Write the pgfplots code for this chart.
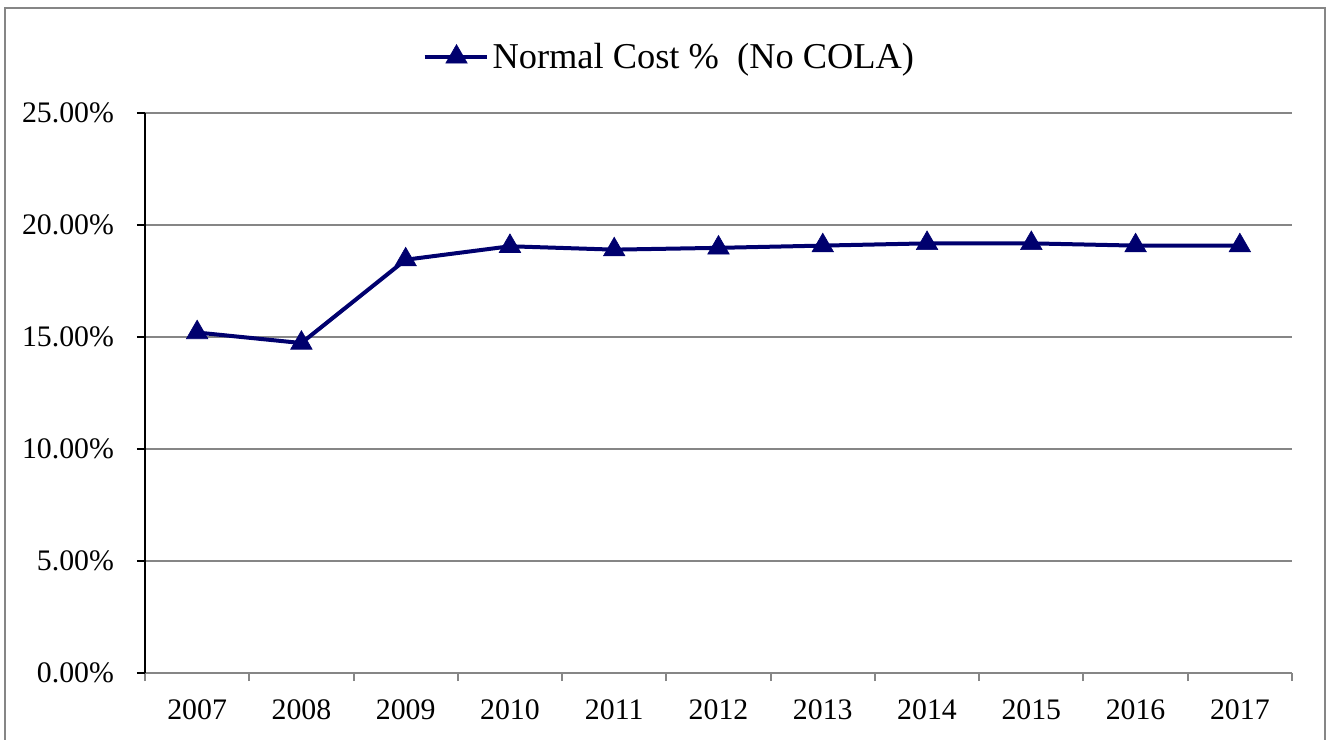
\documentclass[border=0pt]{standalone}
\usepackage{pgfplots}
\pgfplotsset{compat=1.18}
\usepackage{fontspec}
\setmainfont{Liberation Serif}
\definecolor{navyline}{RGB}{0,0,110}
\definecolor{gridgray}{RGB}{134,134,134}
\begin{document}
\begin{tikzpicture}
\useasboundingbox (0pt,0pt) rectangle (665pt,370pt);
\draw[gridgray,line width=1.2pt] (2.5pt,-5pt) -- (2.5pt,366pt) -- (662.5pt,366pt) -- (662.5pt,-5pt);
\begin{axis}[
  at={(72.5pt,33.5pt)}, anchor=south west,
  scale only axis, width=573.5pt, height=280pt,
  xmin=-0.5, xmax=10.5, ymin=0, ymax=25,
  xtick={0,...,10},
  xticklabels={2007,2008,2009,2010,2011,2012,2013,2014,2015,2016,2017},
  minor xtick={-0.5,0.5,...,10.5},
  major x tick style={draw=none},
  minor x tick style={gridgray,line width=1pt},
  minor tick length=4pt,
  ytick={0,5,...,25},
  yticklabel={\pgfmathprintnumber[fixed,fixed zerofill,precision=2]{\tick}\%},
  ymajorgrids, major grid style={gridgray,line width=1pt},
  major tick length=4pt,
  tick align=outside,
  y tick style={black,line width=0.8pt},
  axis x line*=bottom, axis y line*=left,
  x axis line style={gridgray,line width=1pt,-},
  y axis line style={black,line width=1pt,-},
  tick label style={font=\fontsize{14.9}{17}\selectfont},
  /pgf/number format/assume math mode=true,
  xticklabel style={yshift=-6pt},
  yticklabel style={xshift=-8pt},
  legend style={at={(0.458,1.1)}, anchor=center, draw=none, fill=none,
    font=\fontsize{18.2}{21}\selectfont, inner sep=0pt,
    /tikz/every even column/.append style={column sep=0pt}},
  legend cell align=left,
  legend image code/.code={%
    \draw[#1,mark=none] (0pt,0pt) -- (31pt,0pt);
    \draw[#1,only marks] plot coordinates {(16pt,0pt)};},
  clip=false,
]
\addplot[navyline, line width=2pt, mark=triangle*, mark size=6.2pt,
  mark options={fill=navyline,draw=navyline,line width=0.3pt}]
  coordinates {
  (0,15.2) (1,14.73) (2,18.45) (3,19.05) (4,18.9) (5,18.98) (6,19.08)
  (7,19.18) (8,19.18) (9,19.08) (10,19.08)
  };
\addlegendentry{Normal Cost \%\ \ (No COLA)}
\end{axis}
\end{tikzpicture}
\end{document}
